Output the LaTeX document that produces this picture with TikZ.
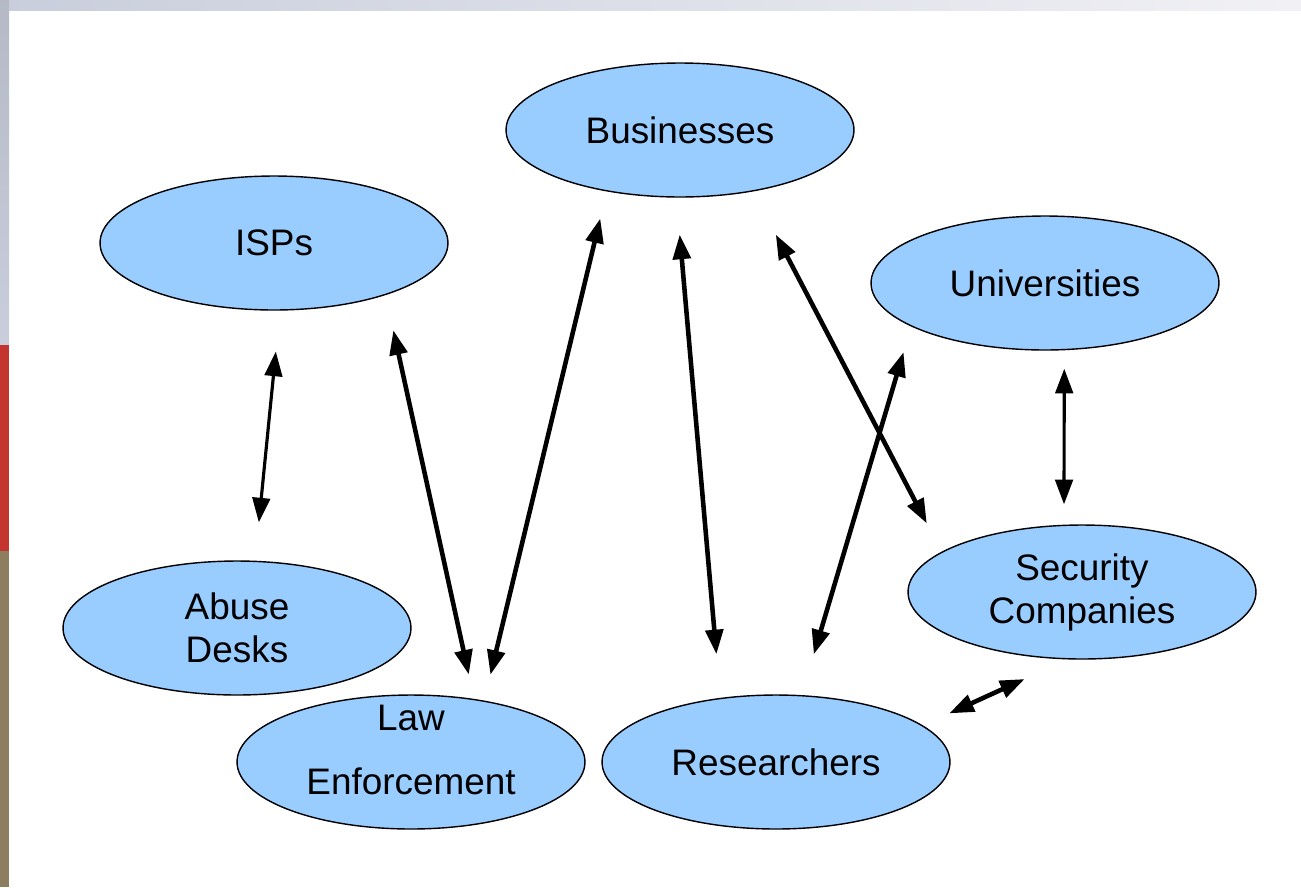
\documentclass[tikz,border=0pt]{standalone}
\usepackage{fontspec}
\setmainfont{Liberation Sans}
\usetikzlibrary{shapes.geometric, arrows.meta}
\definecolor{nodeblue}{HTML}{99CCFF}
\definecolor{slidegray}{HTML}{C9CEDC}
\definecolor{slidelight}{HTML}{F1F1F5}
\definecolor{slidered}{HTML}{C4352F}
\definecolor{slideolive}{HTML}{8C7E5E}
\tikzstyle{link} = [line width=2.6pt, {Triangle[length=14pt,width=10pt]}-{Triangle[length=14pt,width=10pt]}]

\begin{document}
\begin{tikzpicture}[x=0.02cm, y=-0.02cm,
    party/.style={ellipse, draw=black, line width=0.8pt, fill=nodeblue, minimum width=6.96cm, minimum height=2.68cm, inner sep=0pt, align=center, font=\fontsize{21}{24.5}\selectfont},
    thinlink/.style={link, line width=1.8pt},
]
\useasboundingbox (0,0) rectangle (1301,887);

% Slide edge
\shade[left color=slidegray, right color=slidelight] (0,0) rectangle (1301,10);
\shade[top color=slidegray!90!black, bottom color=slidegray] (0,0) rectangle (9,345);
\fill[slidered] (0,345) rectangle (9,551);
\fill[slideolive] (0,551) rectangle (9,887);

% Stakeholders
\node[party] (businesses) at (680,130) {Businesses};
\node[party] (isps) at (274,243) {ISPs};
\node[party] (universities) at (1045,283) {Universities};
\node[party] (security) at (1082,592) {Security\\Companies};
\node[party] (abuse) at (237,628) {Abuse\\Desks};
\node[party] (law) at (411,762) {\raisebox{-0.5pt}[0pt][0pt]{\begin{tabular}{@{}c@{}}Law\\[12pt]Enforcement\end{tabular}}};
\node[party] (researchers) at (776,762) {Researchers};

% Links
\draw[thinlink, shorten <=23.4pt, shorten >=21.9pt] (isps.-85.7) -- (abuse.75.5);
\draw[link, shorten <=20.5pt, shorten >=14.2pt] (isps.-25.1) -- (law.45.6);
\draw[link, shorten <=15.8pt, shorten >=15.1pt] (businesses.220.6) -- (law.40.9);
\draw[link, shorten <=21.1pt, shorten >=24.9pt] (businesses.-93.7) -- (researchers.131.6);
\draw[link, shorten <=27.7pt, shorten >=18.2pt] (businesses.-40.1) -- (security.164.2);
\draw[link, shorten <=15.2pt, shorten >=24.2pt] (universities.198.9) -- (researchers.69.9);
\draw[thinlink, shorten <=10.5pt, shorten >=11.6pt] (universities.-74.9) -- (security.105.9);
\draw[link, shorten <=16.5pt, shorten >=26.9pt] (researchers.14.1) -- (security.-102.9);

\end{tikzpicture}
\end{document}
